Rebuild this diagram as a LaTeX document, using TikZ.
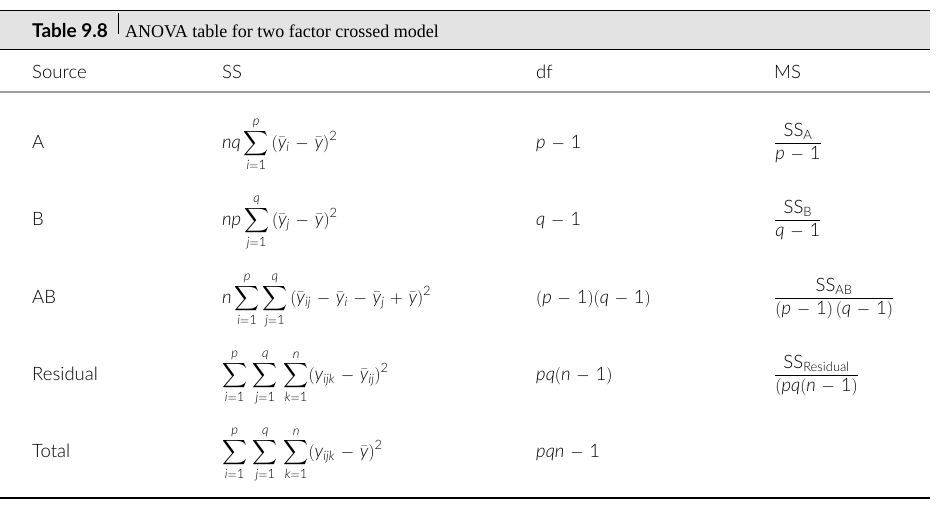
\documentclass[tikz,border=0pt]{standalone}
\usepackage{amsmath}
\usepackage{mathspec}
\setmainfont{Liberation Serif}
\setsansfont{Lato}[UprightFont={* Light},ItalicFont={* Light Italic},BoldFont={* Bold}]
\setmathsfont(Digits,Latin)[UprightFont={* Light},ItalicFont={* Light Italic}]{Lato}
\usepackage{xcolor}
\usetikzlibrary{positioning}
\colorlet{bandgray}{black!11}
\colorlet{rulegray}{black!38}
\medmuskip=6mu plus 2mu minus 2mu
\newcommand\sz{\fontsize{18.5}{22}\selectfont}
\newcommand\ssub[1]{\textsf{SS}_{\textsf{#1}}}
\tikzstyle{cell}=[anchor=base west,inner sep=0pt,font=\sffamily\sz]
\tikzstyle{capno}=[cell,font=\sffamily\bfseries\fontsize{19}{22}\selectfont]
\tikzstyle{captext}=[anchor=base west,inner sep=0pt,font=\rmfamily\fontsize{18}{21}\selectfont]

\begin{document}
\begin{tikzpicture}[x=1pt,y=-1pt]
	\useasboundingbox (0,0) rectangle (942,512);
	% rules and caption band
	\fill[bandgray] (0,10) rectangle (930,49);
	\draw[line width=1pt] (0,10) -- (930,10);
	\draw[line width=1.3pt] (0,49.5) -- (930,49.5);
	\draw[rulegray,line width=1.2pt] (0,92) -- (930,92);
	\draw[line width=2pt] (0,497.5) -- (930,497.5);
	% caption
	\node[capno] (tabno) at (32,37) {Table 9.8};
	\coordinate (sep) at (118,37);
	\draw[line width=.6pt] ([yshift=3pt]sep) -- ([yshift=24pt]sep);
	\node[captext] (captxt) at (125,37) {ANOVA table for two factor crossed model};
	% header
	\node[cell] (h-src) at (32,78) {Source};
	\node[cell] (h-ss) at (222,78) {SS};
	\node[cell] (h-df) at (536,78) {df};
	\node[cell] (h-ms) at (774,78) {MS};
	% rows
	\node[cell] (a-src) at (32,148) {A};
	\node[cell] (a-ss) at (222,148) {$\displaystyle nq\sum_{i=1}^{p}\,(\bar y_i-\bar y)^2$};
	\node[cell] (a-df) at (536,148) {$p-1$};
	\node[cell] (a-ms) at (774,148) {$\dfrac{\ssub{A}}{p-1}$};
	\node[cell] (b-src) at (32,225) {B};
	\node[cell] (b-ss) at (222,225) {$\displaystyle np\sum_{j=1}^{q}\,(\bar y_j-\bar y)^2$};
	\node[cell] (b-df) at (536,225) {$q-1$};
	\node[cell] (b-ms) at (774,225) {$\dfrac{\ssub{B}}{q-1}$};
	\node[cell] (ab-src) at (32,303) {AB};
	\node[cell] (ab-ss) at (222,303) {$\displaystyle n\sum_{i=1}^{p}\sum_{j=1}^{q}\,(\bar y_{ij}-\bar y_i-\bar y_j+\bar y)^2$};
	\node[cell] (ab-df) at (536,303) {$(p-1)(q-1)$};
	\node[cell] (ab-ms) at (774,303) {$\dfrac{\ssub{AB}}{(p-1)\,(q-1)}$};
	\node[cell] (r-src) at (32,380) {Residual};
	\node[cell] (r-ss) at (222,380) {$\displaystyle \sum_{i=1}^{p}\,\sum_{j=1}^{q}\,\sum_{k=1}^{n}(y_{ijk}-\bar y_{ij})^2$};
	\node[cell] (r-df) at (536,380) {$pq(n-1)$};
	\node[cell] (r-ms) at (774,380) {$\dfrac{\ssub{Residual}}{(pq(n-1)}$};
	\node[cell] (t-src) at (32,457) {Total};
	\node[cell] (t-ss) at (222,457) {$\displaystyle \sum_{i=1}^{p}\,\sum_{j=1}^{q}\,\sum_{k=1}^{n}(y_{ijk}-\bar y)^2$};
	\node[cell] (t-df) at (536,457) {$pqn-1$};
\end{tikzpicture}
\end{document}
